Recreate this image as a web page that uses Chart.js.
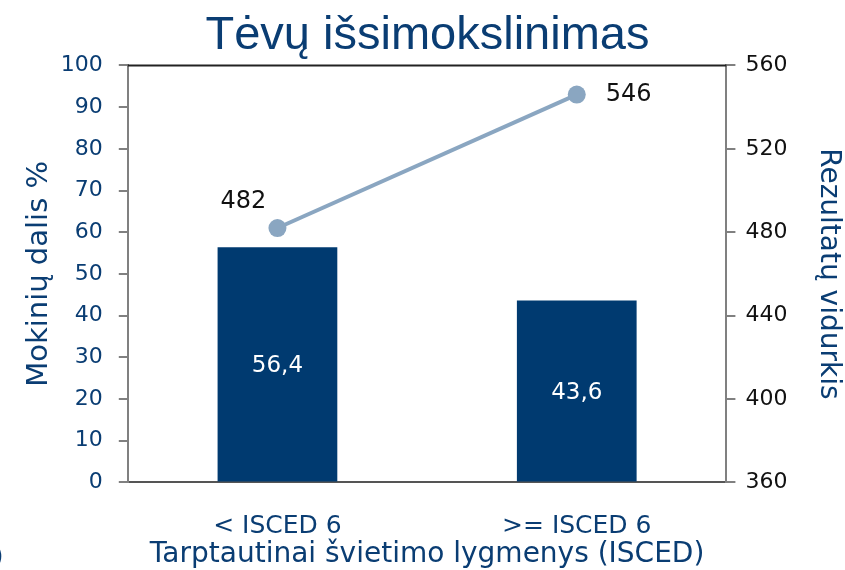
<!DOCTYPE html>
<html>
<head>
<meta charset="utf-8">
<script src="https://cdn.jsdelivr.net/npm/chart.js@4/dist/chart.umd.min.js"></script>
<style>
  html, body { margin: 0; padding: 0; background: #fff; }
  #wrap { position: relative; width: 845px; height: 570px; }
</style>
</head>
<body>
<div id="wrap"><canvas id="chart"></canvas></div>
<script>
(function(){
  // data
  const categories = ['< ISCED 6', '>= ISCED 6'];
  const studentShare = [56.4, 43.6];
  const meanScore = [482, 546];
  const leftTicks = [0, 10, 20, 30, 40, 50, 60, 70, 80, 90, 100];
  const rightTicks = [360, 400, 440, 480, 520, 560];

  const navy = '#0a3d73';
  const barColor = '#003a70';
  const lineColor = '#8aa6c1';
  const arial = '"Liberation Sans", Arial, sans-serif';
  const wide = '"DejaVu Sans", "Liberation Sans", sans-serif';

  // draws bar values, line values, top border
  const extras = {
    id: 'extras',
    afterDatasetsDraw(c) {
      const ctx = c.ctx;
      const area = c.chartArea;
      ctx.save();
      // top frame line
      ctx.strokeStyle = '#222';
      ctx.lineWidth = 2;
      ctx.beginPath();
      ctx.moveTo(area.left, area.top);
      ctx.lineTo(area.right, area.top);
      ctx.stroke();

      ctx.textBaseline = 'middle';
      // bar values, centered in bars
      ctx.font = '23px ' + wide;
      const barMeta = c.getDatasetMeta(0);
      barMeta.data.forEach((el, i) => {
        const mid = (el.y + el.base) / 2;
        ctx.fillStyle = '#fff';
        ctx.textAlign = 'center';
        ctx.fillText(String(studentShare[i]).replace('.', ','), el.x, mid + 2);
      });
      // line values
      ctx.font = '24px ' + wide;
      const lineMeta = c.getDatasetMeta(1);
      lineMeta.data.forEach((el, i) => {
        ctx.fillStyle = '#111';
        if (i === 0) {
          ctx.textAlign = 'center';
          ctx.fillText(String(meanScore[i]), el.x - 34, el.y - 26);
        } else {
          ctx.textAlign = 'left';
          ctx.fillText(String(meanScore[i]), el.x + 29, el.y);
        }
      });
      // stray clipped glyph at the lower-left edge
      ctx.fillStyle = navy;
      ctx.textAlign = 'left';
      ctx.font = '24px ' + wide;
      ctx.fillText(')', -6, 558);
      ctx.restore();
    }
  };

  new Chart(document.getElementById('chart'), {
    type: 'bar',
    data: {
      labels: categories,
      datasets: [
        {
          label: 'Mokinių dalis %',
          data: studentShare,
          backgroundColor: barColor,
          categoryPercentage: 1,
          barPercentage: 0.4,
          yAxisID: 'y',
          order: 2
        },
        {
          label: 'Rezultatų vidurkis',
          type: 'line',
          data: meanScore,
          borderColor: lineColor,
          backgroundColor: lineColor,
          borderWidth: 4,
          pointRadius: 9,
          pointHoverRadius: 9,
          pointBorderWidth: 0,
          yAxisID: 'y1',
          order: 1
        }
      ]
    },
    options: {
      responsive: true,
      maintainAspectRatio: false,
      animation: false,
      layout: { padding: { top: 0, left: 10, right: 0, bottom: 0 } },
      plugins: {
        legend: { display: false },
        tooltip: { enabled: false },
        title: {
          display: true,
          text: 'Tėvų išsimokslinimas',
          color: navy,
          font: { family: arial, size: 47, weight: 'normal' },
          padding: { top: 8, bottom: 1 }
        }
      },
      scales: {
        x: {
          grid: { display: false, drawTicks: false },
          border: { color: '#555', width: 2 },
          ticks: { color: navy, font: { family: wide, size: 25 }, padding: 29 },
          title: {
            display: true,
            text: 'Tarptautinai švietimo lygmenys (ISCED)',
            color: navy,
            font: { family: wide, size: 28 },
            padding: { top: -32, bottom: -2 }
          }
        },
        y: {
          position: 'left',
          min: 0,
          max: 100,
          afterBuildTicks: s => { s.ticks = leftTicks.map(v => ({ value: v })); },
          grid: { drawOnChartArea: false, color: '#808080', tickLength: 9, lineWidth: 2 },
          border: { color: '#808080', width: 2 },
          ticks: { color: navy, font: { family: wide, size: 22 }, padding: 16 },
          title: {
            display: true,
            text: 'Mokinių dalis %',
            color: navy,
            font: { family: wide, size: 29 },
            padding: { top: 12, bottom: -12 }
          }
        },
        y1: {
          position: 'right',
          min: 360,
          max: 560,
          afterBuildTicks: s => { s.ticks = rightTicks.map(v => ({ value: v })); },
          grid: { drawOnChartArea: false, color: '#808080', tickLength: 9, lineWidth: 2 },
          border: { color: '#808080', width: 2 },
          ticks: { color: '#111', font: { family: wide, size: 22 }, padding: 10 },
          title: {
            display: true,
            text: 'Rezultatų vidurkis',
            color: navy,
            font: { family: wide, size: 28 },
            padding: { top: 0, bottom: 14 }
          }
        }
      }
    },
    plugins: [extras]
  });
})();
</script>
</body>
</html>
